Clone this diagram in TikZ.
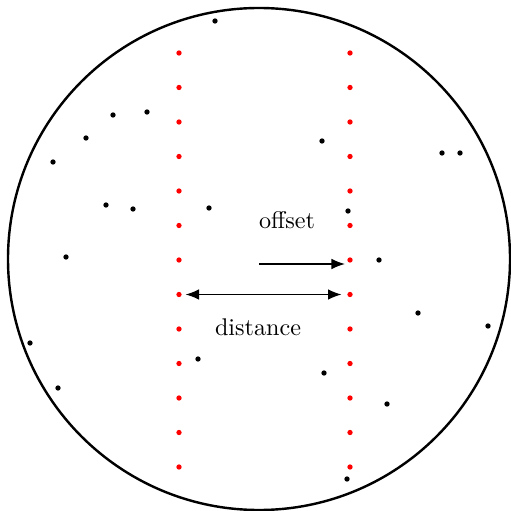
\documentclass[tikz,border=0pt]{standalone}
\usetikzlibrary{arrows.meta}
\begin{document}
\begin{tikzpicture}[x=0.414pt, y=-0.414pt, >={Latex[length=5.6pt,width=4.4pt]},
    pt/.style={circle, fill=black, inner sep=0pt, minimum size=2.2pt},
    redpt/.style={pt, fill=red}]

        \useasboundingbox (0, 0) rectangle (510, 511);

        % 1. Cerchio esterno
        \draw[line width=1pt] (259, 259) circle (251);

        % 2. Due colonne di punti rossi
        \foreach \i in {0,...,12} {
            \node[redpt] (l\i) at (179, 53 + 34.5*\i) {};
            \node[redpt] (r\i) at (350, 53 + 34.5*\i) {};
        }

        % 3. Punti neri sparsi
        \foreach \x/\y [count=\k] in {215/21, 113/115, 147/112, 86/138, 53/162,
                106/205, 133/209, 209/208, 66/257, 322/141, 442/153, 460/153,
                348/211, 379/260, 418/313, 488/326, 30/343, 58/388, 198/359,
                324/373, 387/404, 347/479} {
            \node[pt] (b\k) at (\x, \y) {};
        }

        % 4. Freccia offset
        \coordinate (offstart) at (259, 264);
        \coordinate (offend) at (345, 264);
        \draw[->, line width=0.6pt] (offstart) -- (offend);
        \node (offlabel) at (287, 220) {offset};

        % 5. Freccia distance (tra le due colonne)
        \draw[<->, line width=0.6pt, shorten <=1.4pt, shorten >=2.2pt] (l7) -- (r7);
        \node (distlabel) at (258, 327) {distance};

    \end{tikzpicture}
\end{document}
